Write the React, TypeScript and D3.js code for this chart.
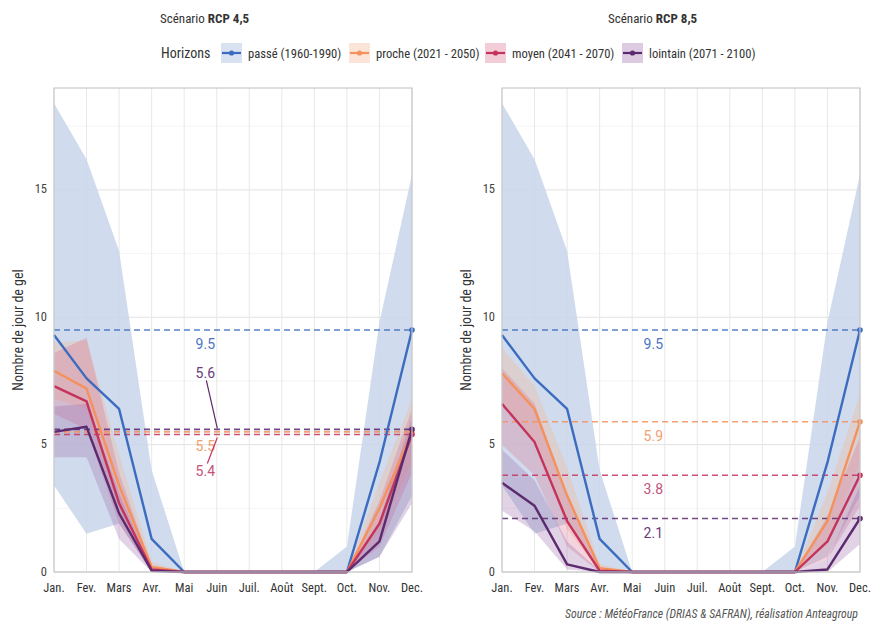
import React from "react";
import * as d3 from "d3";

const months = ["Jan.", "Fev.", "Mars", "Avr.", "Mai", "Juin", "Juil.", "Août", "Sept.", "Oct.", "Nov.", "Dec."];
const yTicks = [0, 5, 10, 15];
const horizons = ["passé (1960-1990)", "proche (2021 - 2050)", "moyen (2041 - 2070)", "lointain (2071 - 2100)"];
const scenarios = ["4,5", "8,5"];

// passé : identical in both scenarios
const passe = [9.3, 7.6, 6.4, 1.3, 0, 0, 0, 0, 0, 0, 4.3, 9.5];
const passeLow = [3.4, 1.5, 1.9, 0, 0, 0, 0, 0, 0, 0, 0.6, 3.0];
const passeHigh = [18.4, 16.2, 12.6, 4.0, 0, 0, 0, 0, 0, 1.0, 9.8, 15.6];

// RCP 4,5
const rcp45Proche = [7.9, 7.2, 3.4, 0.2, 0, 0, 0, 0, 0, 0, 2.5, 5.5];
const rcp45Moyen = [7.3, 6.7, 2.7, 0.1, 0, 0, 0, 0, 0, 0, 1.9, 5.4];
const rcp45Lointain = [5.5, 5.7, 2.3, 0.05, 0, 0, 0, 0, 0, 0, 1.2, 5.6];
const rcp45ProcheLow = [6.8, 6.4, 2.5, 0, 0, 0, 0, 0, 0, 0, 1.6, 4.3];
const rcp45ProcheHigh = [9.0, 9.1, 4.6, 0.4, 0, 0, 0, 0, 0, 0, 3.5, 6.8];
const rcp45MoyenLow = [6.2, 5.6, 1.9, 0, 0, 0, 0, 0, 0, 0, 1.0, 3.9];
const rcp45MoyenHigh = [8.6, 9.2, 3.9, 0.2, 0, 0, 0, 0, 0, 0, 2.8, 6.4];
const rcp45LointainLow = [4.5, 4.5, 1.3, 0, 0, 0, 0, 0, 0, 0, 0.6, 2.7];
const rcp45LointainHigh = [6.5, 6.6, 3.1, 0.1, 0, 0, 0, 0, 0, 0, 2.0, 6.1];

// RCP 8,5
const rcp85Proche = [7.8, 6.4, 3.0, 0.15, 0, 0, 0, 0, 0, 0, 2.0, 5.9];
const rcp85Moyen = [6.6, 5.1, 2.0, 0.05, 0, 0, 0, 0, 0, 0, 1.2, 3.8];
const rcp85Lointain = [3.5, 2.6, 0.3, 0, 0, 0, 0, 0, 0, 0, 0.1, 2.1];
const rcp85ProcheLow = [6.6, 5.2, 1.7, 0, 0, 0, 0, 0, 0, 0, 1.1, 4.3];
const rcp85ProcheHigh = [8.8, 7.3, 4.1, 0.3, 0, 0, 0, 0, 0, 0, 3.1, 7.0];
const rcp85MoyenLow = [5.0, 3.8, 1.0, 0, 0, 0, 0, 0, 0, 0, 0.5, 2.6];
const rcp85MoyenHigh = [8.0, 6.6, 3.0, 0.1, 0, 0, 0, 0, 0, 0, 2.2, 5.3];
const rcp85LointainLow = [2.4, 1.6, 0.1, 0, 0, 0, 0, 0, 0, 0, 0, 1.1];
const rcp85LointainHigh = [4.8, 3.6, 1.2, 0.05, 0, 0, 0, 0, 0, 0, 0.5, 3.4];

const colors = ["#3b6cbf", "#f4915c", "#c4335c", "#5c2a6e"];
const bandColors = ["#c8d5ea", "#f7b48f", "#d9718f", "#9a6aa8"];
const labelColors = ["#4a74c4", "#f2a070", "#c4517a", "#6b3a7c"];

const panelData = [
  {
    lines: [passe, rcp45Proche, rcp45Moyen, rcp45Lointain],
    lows: [passeLow, rcp45ProcheLow, rcp45MoyenLow, rcp45LointainLow],
    highs: [passeHigh, rcp45ProcheHigh, rcp45MoyenHigh, rcp45LointainHigh],
  },
  {
    lines: [passe, rcp85Proche, rcp85Moyen, rcp85Lointain],
    lows: [passeLow, rcp85ProcheLow, rcp85MoyenLow, rcp85LointainLow],
    highs: [passeHigh, rcp85ProcheHigh, rcp85MoyenHigh, rcp85LointainHigh],
  },
];

const W = 871;
const H = 623;
const top = 88;
const bottom = 572;
const panelX = [54, 502];
const panelW = 358;
const cond = "'Roboto Condensed', 'Liberation Sans Narrow', 'DejaVu Sans Condensed', Roboto, sans-serif";

// label offsets (px from the dashed line), a bit like ggrepel would place them
const labelOffsets = [
  [14, 14, 37, -56],
  [14, 14, 14, 14],
];

function Panel({ idx }: { idx: number }) {
  const x0 = panelX[idx];
  const x = d3.scaleLinear().domain([0, 11]).range([x0, x0 + panelW]);
  const y = d3.scaleLinear().domain([0, 19]).range([bottom, top]);
  const { lines, lows, highs } = panelData[idx];

  const line = d3
    .line<number>()
    .x((_, i) => x(i))
    .y((d) => y(d));
  const area = (lo: number[], hi: number[]) =>
    d3
      .area<number>()
      .x((_, i) => x(i))
      .y0((_, i) => y(lo[i]))
      .y1((d) => y(d))(hi);

  const minor = d3.range(2.5, 19, 5);
  const labelX = x(4.65);

  return (
    <g>
      <text x={x0 + 106} y={23} fontFamily={cond} fontSize={13} fill="#333">
        Scénario <tspan fontWeight="bold">RCP {scenarios[idx]}</tspan>
      </text>
      {/* grid */}
      {minor.map((v) => (
        <line key={"m" + v} x1={x0} x2={x0 + panelW} y1={y(v)} y2={y(v)} stroke="#f1f1f1" strokeWidth={0.8} />
      ))}
      {yTicks.map((v) => (
        <line key={"g" + v} x1={x0} x2={x0 + panelW} y1={y(v)} y2={y(v)} stroke="#e2e2e2" strokeWidth={1} />
      ))}
      {months.map((m, i) => (
        <line key={"v" + m} x1={x(i)} x2={x(i)} y1={top} y2={bottom} stroke="#e8e8e8" strokeWidth={1} />
      ))}
      {/* bands */}
      {highs.map((hi, k) => (
        <path
          key={"b" + k}
          d={area(lows[k], hi) || ""}
          fill={bandColors[k]}
          fillOpacity={k === 0 ? 0.85 : 0.3}
        />
      ))}
      {/* dashed reference lines at the December value */}
      {lines.map((s, k) => (
        <g key={"d" + k}>
          <line
            x1={x0}
            x2={x0 + panelW}
            y1={y(s[11])}
            y2={y(s[11])}
            stroke={colors[k]}
            strokeOpacity={0.85}
            strokeWidth={1.6}
            strokeDasharray="6,4"
          />
          <circle cx={x(11)} cy={y(s[11])} r={2.8} fill={colors[k]} />
        </g>
      ))}
      {/* lines */}
      {lines.map((s, k) => (
        <path key={"l" + k} d={line(s) || ""} fill="none" stroke={colors[k]} strokeWidth={2.4} strokeLinejoin="round" />
      ))}
      {/* value labels */}
      {lines.map((s, k) => {
        const ly = y(s[11]) + labelOffsets[idx][k];
        return (
          <g key={"t" + k}>
            {idx === 0 && k === 3 && (
              <line x1={labelX + 1} y1={ly + 7} x2={labelX + 12} y2={y(s[11]) - 1} stroke={colors[k]} strokeWidth={1.2} />
            )}
            {idx === 0 && k === 2 && (
              <line x1={labelX + 2} y1={ly - 8} x2={labelX + 12} y2={y(s[11]) + 3} stroke={colors[k]} strokeWidth={1.2} />
            )}
            <text
              x={labelX}
              y={ly}
              textAnchor="middle"
              dominantBaseline="central"
              fontFamily="Roboto, sans-serif"
              fontSize={14}
              fill={labelColors[k]}
            >
              {s[11].toFixed(1)}
            </text>
          </g>
        );
      })}
      {/* frame */}
      <rect x={x0} y={top} width={panelW} height={bottom - top} fill="none" stroke="#c9c9c9" strokeWidth={1.2} />
      {/* axes */}
      {yTicks.map((v) => (
        <text key={"yt" + v} x={x0 - 7} y={y(v) - 1} textAnchor="end" dominantBaseline="central" fontFamily={cond} fontSize={12.5} fill="#444">
          {v}
        </text>
      ))}
      {months.map((m, i) => (
        <text key={"xt" + m} x={x(i)} y={587} textAnchor="middle" dominantBaseline="central" fontFamily={cond} fontSize={12.5} fill="#333">
          {m}
        </text>
      ))}
      <text
        transform={`translate(${x0 - 36},${(top + bottom) / 2}) rotate(-90)`}
        textAnchor="middle"
        dominantBaseline="central"
        fontFamily={cond}
        fontSize={14}
        fill="#333"
      >
        Nombre de jour de gel
      </text>
    </g>
  );
}

const legendX = [221, 349, 485, 622];

export default function App() {
  return (
    <svg width={W} height={H} style={{ display: "block", position: "absolute", left: 0, top: 0, background: "#fff" }}>
      <rect width={W} height={H} fill="#fff" />
      <text x={161} y={53} dominantBaseline="central" fontFamily={cond} fontSize={14} fill="#333">
        Horizons
      </text>
      {horizons.map((h, k) => (
        <g key={h} transform={`translate(${legendX[k]},53)`}>
          <rect x={0} y={-10} width={21} height={20} fill={bandColors[k]} fillOpacity={k === 0 ? 0.7 : 0.35} />
          <line x1={1} x2={20} y1={0} y2={0} stroke={colors[k]} strokeWidth={2.2} />
          <circle cx={10.5} cy={0} r={2.6} fill={colors[k]} />
          <text x={27} y={0} dominantBaseline="central" fontFamily={cond} fontSize={12.6} fill="#333">
            {h}
          </text>
        </g>
      ))}
      <Panel idx={0} />
      <Panel idx={1} />
      <text
        x={858}
        y={618}
        textAnchor="end"
        fontFamily={cond}
        fontStyle="italic"
        fontSize={11.8}
        fill="#555"
      >
        Source : MétéoFrance (DRIAS &amp; SAFRAN), réalisation Anteagroup
      </text>
    </svg>
  );
}
